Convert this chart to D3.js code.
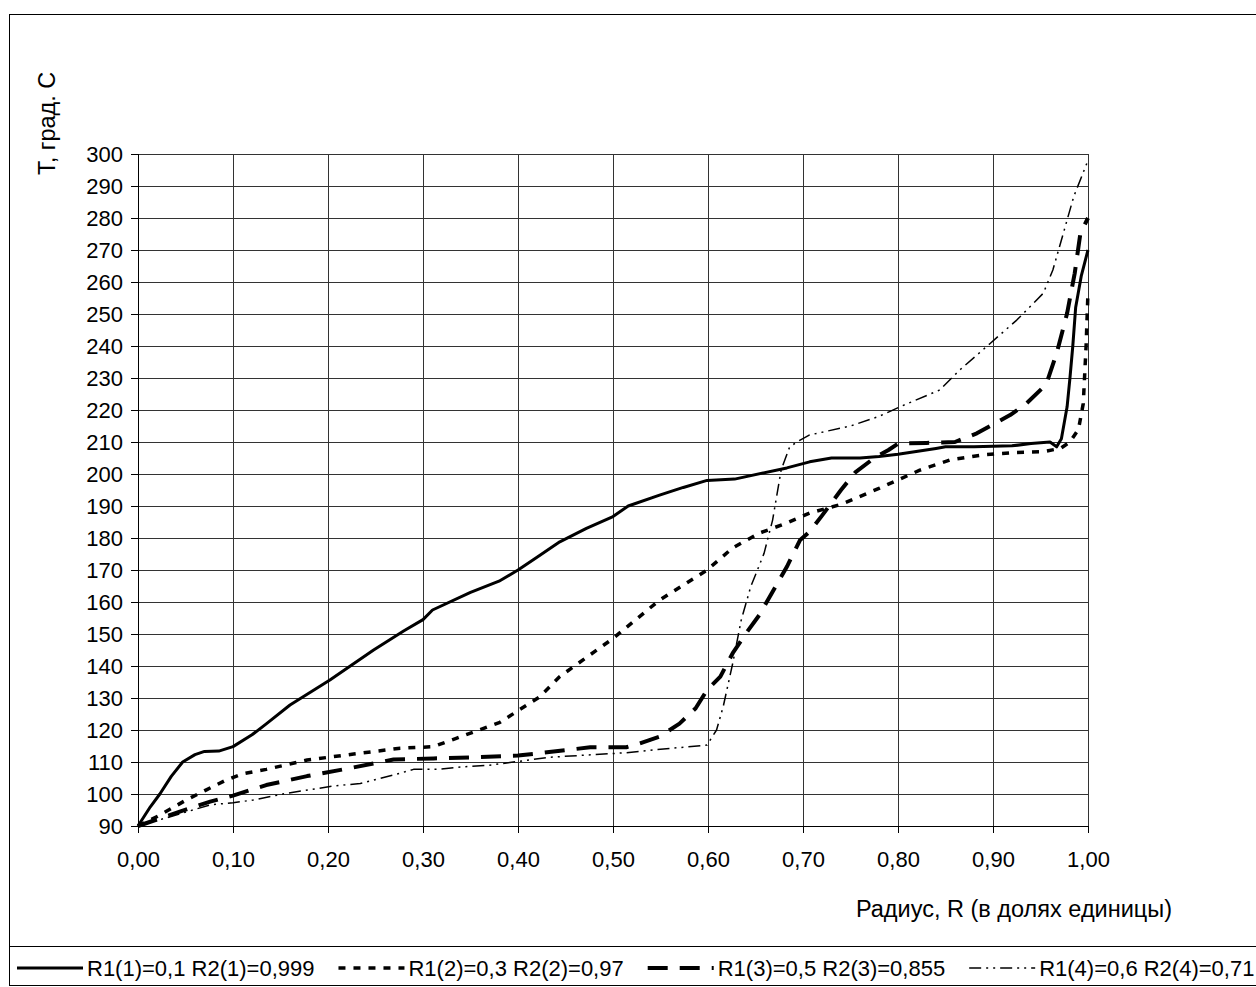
<!DOCTYPE html>
<html>
<head>
<meta charset="utf-8">
<script src="https://cdn.jsdelivr.net/npm/d3@7"></script>
<style>
  body { margin: 0; background: #fff; }
  svg { display: block; font-family: "Liberation Sans", Arial, sans-serif; }
</style>
</head>
<body>
<svg id="chart" width="1256" height="987"></svg>
<script>
// radius (fraction of unit) and temperature, deg C
const r1 = [0, 0.013, 0.023, 0.035, 0.047, 0.06, 0.07, 0.085, 0.1, 0.12, 0.135, 0.16, 0.202, 0.248, 0.28, 0.30, 0.31, 0.35, 0.38, 0.40, 0.42, 0.444, 0.472, 0.5, 0.516, 0.549, 0.574, 0.599, 0.628, 0.683, 0.707, 0.73, 0.76, 0.78, 0.80, 0.84, 0.85, 0.88, 0.92, 0.94, 0.96, 0.967, 0.972, 0.975, 0.978, 0.981, 0.984, 0.987, 0.993, 1.0];
const t1 = [90, 96, 100, 105.5, 110, 112.3, 113.3, 113.4, 114.8, 118.5, 121.9, 127.8, 135.6, 145, 151, 154.5, 157.5, 163, 166.5, 170, 174, 178.8, 183, 186.7, 190, 193.4, 195.8, 198, 198.4, 201.9, 203.8, 205, 205, 205.5, 206.2, 208, 208.5, 208.5, 208.8, 209.5, 210, 208.5, 211, 216, 221, 230, 240, 252, 262, 270];

const r2 = [0, 0.023, 0.05, 0.072, 0.093, 0.11, 0.135, 0.178, 0.227, 0.276, 0.311, 0.335, 0.381, 0.423, 0.444, 0.5, 0.549, 0.599, 0.626, 0.654, 0.683, 0.707, 0.74, 0.78, 0.823, 0.855, 0.89, 0.925, 0.953, 0.971, 0.981, 0.99, 0.995, 0.998, 1.0];
const t2 = [90, 93.4, 98, 101.3, 104.4, 106.3, 107.7, 110.6, 112.5, 114.3, 114.8, 117.4, 122.4, 130.4, 136.7, 148.6, 160.6, 170, 176.9, 181.5, 184.7, 187.8, 190.5, 195.5, 201.2, 204.4, 206, 206.7, 207, 208, 210, 214, 222, 240, 257];

const r3 = [0, 0.044, 0.076, 0.1, 0.135, 0.178, 0.227, 0.269, 0.311, 0.356, 0.40, 0.427, 0.476, 0.514, 0.528, 0.549, 0.570, 0.587, 0.599, 0.613, 0.626, 0.640, 0.654, 0.668, 0.683, 0.697, 0.707, 0.72, 0.74, 0.755, 0.775, 0.79, 0.80, 0.83, 0.86, 0.883, 0.918, 0.935, 0.956, 0.967, 0.978, 0.986, 0.992, 1.0];
const t3 = [90, 94.5, 97.6, 99.5, 102.8, 105.6, 108.3, 110.8, 111.1, 111.5, 112, 112.9, 114.6, 114.6, 115.8, 117.9, 122, 126.8, 132.5, 136.7, 144, 150.2, 155.9, 163.2, 171, 179.4, 182, 187, 195, 200.5, 205, 207.5, 209.5, 209.7, 210, 212.7, 218.4, 222, 228, 237.7, 250.2, 262.7, 275.2, 280];

const r4 = [0, 0.034, 0.076, 0.1, 0.121, 0.156, 0.206, 0.234, 0.276, 0.29, 0.315, 0.342, 0.37, 0.398, 0.434, 0.514, 0.542, 0.599, 0.609, 0.616, 0.626, 0.635, 0.645, 0.659, 0.668, 0.677, 0.686, 0.697, 0.707, 0.75, 0.78, 0.802, 0.844, 0.865, 0.897, 0.925, 0.953, 0.963, 0.974, 0.985, 1.0];
const t4 = [90, 92.9, 96.6, 97.3, 98.1, 100.2, 102.5, 103.3, 106.5, 107.7, 107.7, 108.5, 109, 110.1, 111.5, 112.9, 113.75, 115.3, 120, 127.3, 140.8, 154.4, 164.8, 175.2, 185.6, 201.25, 208.5, 210.6, 212.2, 215, 218, 221, 226.25, 232.5, 240.8, 248.1, 256.5, 263.75, 275.2, 286.7, 298];

const seriesNames = ['R1(1)=0,1 R2(1)=0,999', 'R1(2)=0,3 R2(2)=0,97', 'R1(3)=0,5 R2(3)=0,855', 'R1(4)=0,6 R2(4)=0,71'];
const xTicks = d3.range(0, 1.0001, 0.1);
const yTicks = d3.range(90, 301, 10);

const width = 1256;
const height = 987;
const margin = { top: 154, right: 168, bottom: 161, left: 138 };
const fontSize = 22;
const titleSize = 23.5;

const styles = [
  { width: 3, dash: null },
  { width: 3.5, dash: '7,8' },
  { width: 4, dash: '20,12' },
  { width: 1.5, dash: '12,5,2,5,2,5' }
];

const series = [[r1, t1], [r2, t2], [r3, t3], [r4, t4]]
  .map(([r, t], i) => ({ name: seriesNames[i], values: r.map((d, j) => ({ r: d, t: t[j] })), style: styles[i] }));

const svg = d3.select('#chart');
const locale = d3.formatLocale({ decimal: ',', thousands: ' ', grouping: [3], currency: ['', ''] });
const fmt = locale.format('.2f');

const x = d3.scaleLinear()
  .domain([0, 1])
  .range([margin.left, width - margin.right]);

const y = d3.scaleLinear()
  .domain([90, 300])
  .range([height - margin.bottom, margin.top]);

// outer frame and legend separator
svg.append('rect')
  .attr('x', 9.5).attr('y', 14.5)
  .attr('width', 1260).attr('height', 971)
  .attr('fill', 'none').attr('stroke', '#000');

svg.append('line')
  .attr('x1', 9).attr('x2', width)
  .attr('y1', 946.5).attr('y2', 946.5)
  .attr('stroke', '#000');

// grid
svg.append('g')
  .attr('stroke', '#333')
  .attr('shape-rendering', 'crispEdges')
  .call(g => g.selectAll('.h').data(yTicks).join('line')
    .attr('x1', x(0)).attr('x2', x(1))
    .attr('y1', d => y(d)).attr('y2', d => y(d)))
  .call(g => g.selectAll('.v').data(xTicks).join('line')
    .attr('x1', d => x(d)).attr('x2', d => x(d))
    .attr('y1', y(300)).attr('y2', y(90)));

const xAxis = g => g
  .attr('transform', `translate(0,${y(90)})`)
  .call(d3.axisBottom(x).tickValues(xTicks).tickFormat(fmt).tickSize(7).tickPadding(18))
  .call(g => g.selectAll('text').attr('font-size', fontSize).attr('fill', '#000'));

const yAxis = g => g
  .attr('transform', `translate(${x(0)},0)`)
  .call(d3.axisLeft(y).tickValues(yTicks).tickSize(7).tickPadding(8))
  .call(g => g.selectAll('text').attr('font-size', fontSize).attr('fill', '#000'));

svg.append('g').call(xAxis).attr('shape-rendering', 'crispEdges').attr('font-family', null);
svg.append('g').call(yAxis).attr('shape-rendering', 'crispEdges').attr('font-family', null);

// axis titles
svg.append('text')
  .attr('x', 1172).attr('y', 917)
  .attr('text-anchor', 'end')
  .attr('font-size', titleSize)
  .text('Радиус, R (в долях единицы)');

svg.append('text')
  .attr('transform', 'translate(55,175) rotate(-90)')
  .attr('text-anchor', 'start')
  .attr('font-size', titleSize)
  .text('Т, град. С');

// lines
const line = d3.line()
  .x(d => x(d.r))
  .y(d => y(d.t));

svg.append('g')
  .attr('fill', 'none')
  .attr('stroke', '#000')
  .selectAll('path')
  .data(series)
  .join('path')
  .attr('stroke-width', d => d.style.width)
  .attr('stroke-dasharray', d => d.style.dash)
  .attr('stroke-linejoin', 'round')
  .attr('d', d => line(d.values));

// legend
const legend = svg.append('g').attr('transform', 'translate(17,968)');
let lx = 0;
series.forEach(s => {
  const item = legend.append('g').attr('transform', `translate(${lx},0)`);
  item.append('line')
    .attr('x1', 0).attr('x2', 66)
    .attr('stroke', '#000')
    .attr('stroke-width', s.style.width)
    .attr('stroke-dasharray', s.style.dash);
  const txt = item.append('text')
    .attr('x', 70).attr('y', 8)
    .attr('font-size', fontSize)
    .text(s.name);
  lx += 70 + txt.node().getComputedTextLength() + 24;
});
</script>
</body>
</html>
